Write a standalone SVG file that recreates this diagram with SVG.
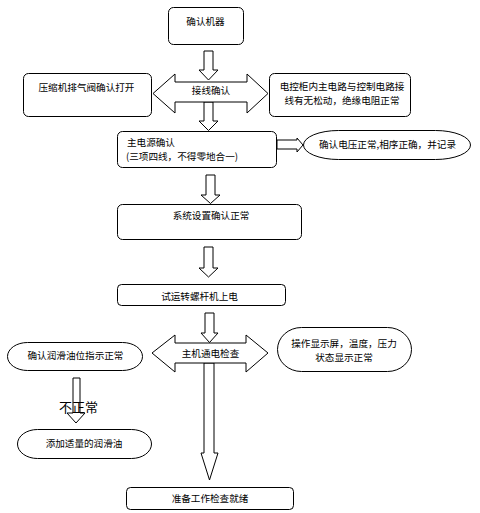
<svg xmlns="http://www.w3.org/2000/svg" width="480" height="513" viewBox="0 0 480 513">
<style>
.s{fill:#fff;stroke:#000;stroke-width:1}
.a{fill:#fff;stroke:#000;stroke-width:1;stroke-linejoin:miter}
.t{font-family:"Noto Sans CJK SC","Liberation Sans",sans-serif;font-size:9.6px;fill:#000}
.m{text-anchor:middle}
.big{font-family:"Noto Sans CJK SC","Liberation Sans",sans-serif;font-size:13px;fill:#000}
</style>
<rect width="480" height="513" fill="#fff"/>
<g id="connectors">
<polygon class="a" points="204,51 213,51 213,70 218,70 208.5,80 199,70 204,70"/>
<polygon class="a" points="204,102 213,102 213,121 218,121 208.5,130.5 199,121 204,121"/>
<polygon class="a" points="277,140 297,140 297,138 303,145 297,152 297,149 277,149"/>
<polygon class="a" points="206,175 215,175 215,195 220,195 210.5,203.5 201,195 206,195"/>
<polygon class="a" points="204,247 213,247 213,268 218,268 208.5,277 199,268 204,268"/>
<polygon class="a" points="205,313 214,313 214,333 218,333 209.5,342.5 201,333 205,333"/>
<polygon class="a" points="204,363 214,363 214,453 218,453 209.5,480 201,453 204,453"/>
<polygon class="a" points="73,378 80,378 80,413 85,413 76,423 67,413 73,413"/>
</g>
<g id="n_confirm_machine"><rect class="s" x="168.5" y="7.5" width="75" height="37" rx="5"/><text class="t m" x="205.5" y="25">确认机器</text></g>
<g id="n_wiring"><polygon class="a" points="153,93.5 175,74 175,82 247,82 247,74 268,93.5 247,113 247,102 175,102 175,113"/><text class="t m" x="211" y="94">接线确认</text></g>
<g id="n_valve"><rect class="s" x="23.5" y="73.5" width="128" height="43" rx="5"/><text class="t m" x="86.5" y="91">压缩机排气阀确认打开</text></g>
<g id="n_cabinet"><rect class="s" x="269.5" y="73.5" width="141" height="43" rx="5"/><text class="t m" x="342" y="89.5">电控柜内主电路与控制电路接</text><text class="t m" x="342" y="103.5">线有无松动，绝缘电阻正常</text></g>
<g id="n_power"><rect class="s" x="117.5" y="131.5" width="159" height="36" rx="5"/><text class="t" x="127" y="145.5">主电源确认</text><text class="t" x="126" y="159.5">(三项四线，不得零地合一)</text></g>
<g id="n_voltage"><rect class="s" x="303.5" y="130.5" width="167" height="29" rx="35" ry="14.5"/><text class="t m" x="387.5" y="148">确认电压正常,相序正确，并记录</text></g>
<g id="n_settings"><rect class="s" x="117.5" y="204.5" width="184" height="35" rx="5"/><text class="t m" x="211" y="219">系统设置确认正常</text></g>
<g id="n_poweron"><rect class="s" x="117.5" y="284.5" width="168" height="21" rx="4"/><text class="t m" x="199.5" y="300">试运转螺杆机上电</text></g>
<g id="n_check"><polygon class="a" points="152,353 175,335 175,343 246,343 246,335 268,353 246,372 246,363 175,363 175,372"/><text class="t m" x="210.5" y="357">主机通电检查</text></g>
<g id="n_oil_level"><rect class="s" x="7.5" y="342.5" width="135" height="28" rx="20" ry="14"/><text class="t m" x="75.5" y="359">确认润滑油位指示正常</text></g>
<g id="n_display"><rect class="s" x="277.5" y="327.5" width="134" height="44" rx="24" ry="22"/><text class="t m" x="344" y="347">操作显示屏，温度，压力</text><text class="t m" x="344" y="361">状态显示正常</text></g>
<g id="n_abnormal_label"><text class="big" x="59" y="412">不正常</text></g>
<g id="n_add_oil"><rect class="s" x="17.5" y="429.5" width="134" height="29" rx="20" ry="14.5"/><text class="t m" x="84" y="447">添加适量的润滑油</text></g>
<g id="n_ready"><rect class="s" x="126.5" y="487.5" width="167" height="22" rx="4"/><text class="t m" x="210" y="502">准备工作检查就绪</text></g>
</svg>
